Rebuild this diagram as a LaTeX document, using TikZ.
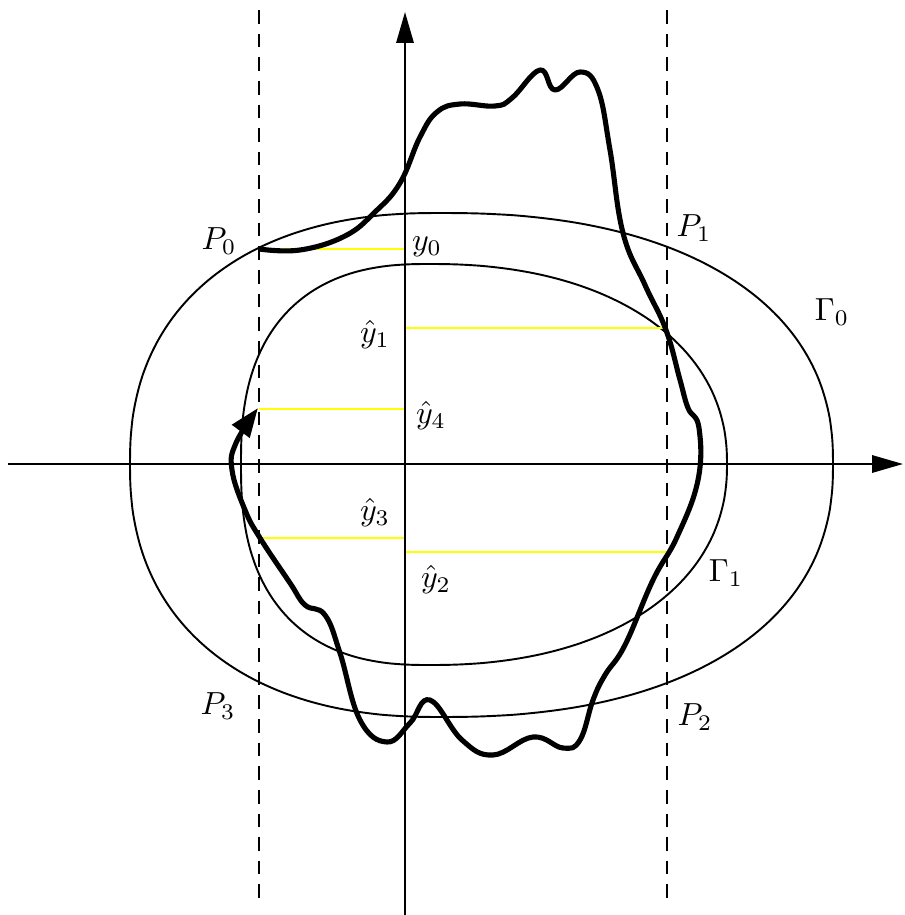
\documentclass[tikz,border=0pt]{standalone}
\usepackage{amsmath}
\definecolor{hatyellow}{RGB}{255,255,0}
\usetikzlibrary{arrows.meta}

\begin{document}
\begin{tikzpicture}[x=0.011cm,y=-0.011cm,
  contour/.style={line width=0.6pt},
  guide/.style={line width=0.6pt,dash pattern=on 1.5mm off 1.1mm},
  level/.style={hatyellow,line width=0.7pt},
  axisline/.style={line width=0.7pt,-{Triangle[length=3.4mm,width=1.9mm]}},
  flow/.style={line width=1.6pt,line join=round,-{Triangle[length=3.2mm,width=2.3mm]}}]
  \useasboundingbox (0,0) rectangle (905,915);
  % the two level curves, one quarter at a time
  \foreach \sx/\sy/\ax/\by/\ex in {1/1/393/251/0.87,-1/1/310/251/0.87,-1/-1/310/253/0.87,1/-1/393/253/0.87}
    \draw[contour] plot[domain=0:90,samples=46,smooth]
      ({440+(\sx)*\ax*max(cos(\x),0.00001)^\ex},{464-(\sy)*\by*max(sin(\x),0.00001)^\ex});
  \foreach \sx/\sy/\ax/\by/\ex in {1/1/297/200/0.91,-1/1/189/200/0.8,-1/-1/189/201/0.8,1/-1/297/201/0.91}
    \draw[contour] plot[domain=0:90,samples=46,smooth]
      ({430+(\sx)*\ax*max(cos(\x),0.00001)^\ex},{464-(\sy)*\by*max(sin(\x),0.00001)^\ex});
  % vertical guides
  \coordinate (g0t) at (259,10);
  \coordinate (g0b) at (259,905);
  \coordinate (g1t) at (667,10);
  \coordinate (g1b) at (667,905);
  \draw[guide] (g0t) -- (g0b);
  \draw[guide] (g1t) -- (g1b);
  % levels
  \coordinate (a0) at (259,249);  \coordinate (b0) at (405,249);
  \coordinate (a1) at (405,328);  \coordinate (b1) at (667,328);
  \coordinate (a4) at (259,409);  \coordinate (b4) at (405,409);
  \coordinate (a3) at (259,538);  \coordinate (b3) at (405,538);
  \coordinate (a2) at (405,552);  \coordinate (b2) at (667,552);
  \draw[level] (a0) -- (b0);
  \draw[level] (a1) -- (b1);
  \draw[level] (a4) -- (b4);
  \draw[level] (a3) -- (b3);
  \draw[level] (a2) -- (b2);
  % axes
  \coordinate (ybot) at (405,915);
  \coordinate (ytop) at (405,12);
  \coordinate (xleft) at (8,464);
  \coordinate (xright) at (903,464);
  \draw[axisline] (ybot) -- (ytop);
  \draw[axisline] (xleft) -- (xright);
  % the curve
  \draw[flow] plot[smooth,tension=0.7] coordinates {
    (259,249) (300,250) (345,236) (375,212) (400,183) (420,137) (437,112)
    (460,104) (495,106) (512,98) (540,70) (555,90) (580,72) (598,90)
    (610,150) (623,233) (645,285) (666,330) (680,380) (688,408) (699,428)
    (698,480) (677,537) (653,580) (625,645) (605,675) (593,700) (580,740)
    (563,748) (533,737) (493,755) (462,740) (430,700) (410,723) (387,742)
    (360,720) (340,653) (325,615) (305,605) (290,583) (260,538) (245,510)
    (232,470) (236,443) (258,408)};
  % labels
  \node (p0) at (219,241) {$P_0$};
  \node (p1) at (694,228) {$P_1$};
  \node (p2) at (695,717) {$P_2$};
  \node (p3) at (218,706) {$P_3$};
  \node (y0) at (427,247) {$y_0$};
  \node (y1) at (375,335) {$\hat{y}_1$};
  \node (y2) at (436,580) {$\hat{y}_2$};
  \node (y3) at (375,513) {$\hat{y}_3$};
  \node (y4) at (431,416) {$\hat{y}_4$};
  \node (gam0) at (832,312) {$\Gamma_0$};
  \node (gam1) at (726,573) {$\Gamma_1$};
\end{tikzpicture}
\end{document}
